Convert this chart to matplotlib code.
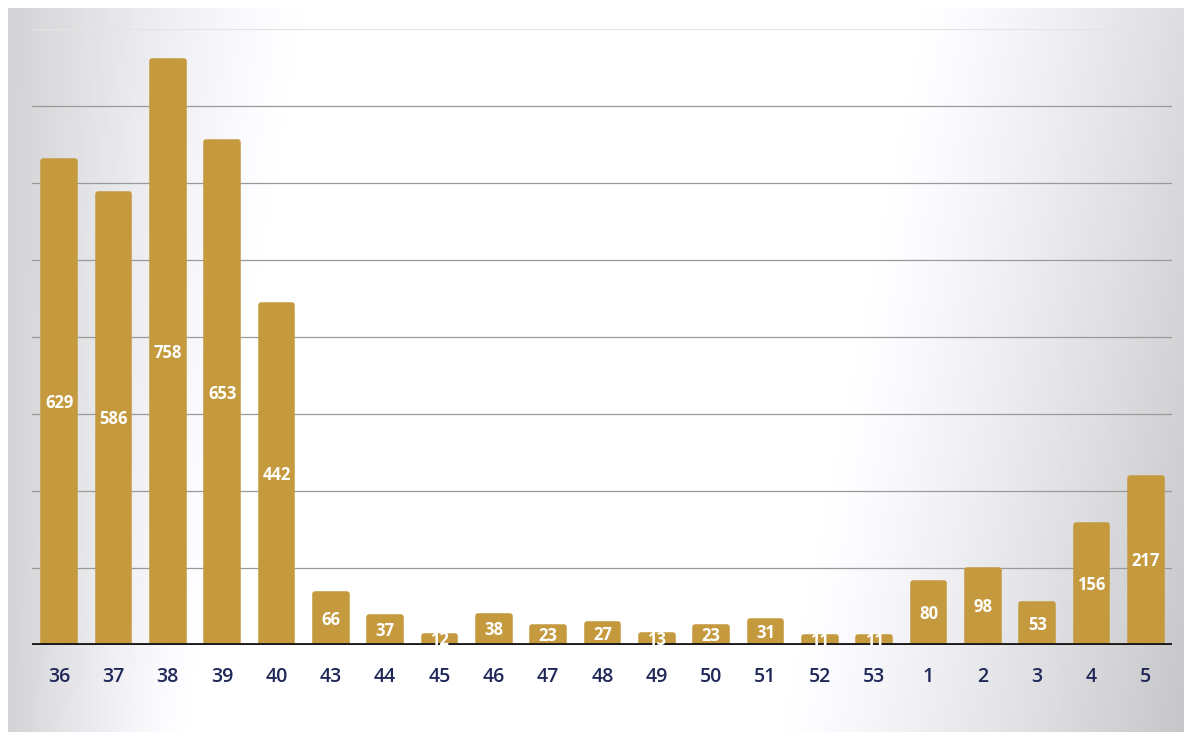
import numpy as np
import matplotlib.pyplot as plt

# weekly counts
weeks = ['36', '37', '38', '39', '40', '43', '44', '45', '46', '47', '48',
         '49', '50', '51', '52', '53', '1', '2', '3', '4', '5']
counts = [629, 586, 758, 653, 442, 66, 37, 12, 38, 23, 27,
          13, 23, 31, 11, 11, 80, 98, 53, 156, 217]

bar_color = '#c59a3e'
tick_color = '#1f2858'

plt.rcParams['font.family'] = ['Open Sans', 'DejaVu Sans']

fig = plt.figure(figsize=(11.84, 7.32), dpi=100)
fig.patch.set_facecolor('white')

# background shading (scanned page look)
bg = fig.add_axes([8 / 1184, 0, 1 - 8 / 1184, 1 - 8 / 732])
xx, yy = np.meshgrid(np.linspace(0, 1, 300), np.linspace(0, 1, 200))
left = np.clip(1 - xx / (0.25 - 0.1 * yy), 0, 1) ** 1.3 * 0.17
start = 0.78 - 0.12 * yy
right = np.clip((xx - start) / (1 - start), 0, 1) ** 1.2 * (0.13 + 0.09 * yy)
shade = 1 - np.maximum(left, right)
bg.imshow(np.dstack([shade, shade, shade * 1.015]).clip(0, 1),
          aspect='auto', extent=[0, 1, 0, 1], origin='upper')
bg.set_axis_off()

ax = fig.add_axes([32 / 1184, 1 - 645 / 732, (1172 - 32) / 1184, (645 - 29) / 732])
ax.patch.set_alpha(0)

x = np.arange(len(weeks))
bars = ax.bar(x, counts, width=0.58, color=bar_color, edgecolor=bar_color,
              linewidth=4, joinstyle='round', zorder=3)

for xi, v in zip(x, counts):
    ax.text(xi, v / 2, str(v), ha='center', va='center', color='white',
            fontsize=12, fontweight='bold', zorder=5)

ax.set_xlim(-0.5, 20.48)
ax.set_ylim(0, 800)
ax.set_yticks(np.arange(100, 701, 100))
ax.yaxis.grid(True, color='#9a9a9a', linewidth=0.9)
ax.axhline(800, color='#e4e4e4', linewidth=0.9)
ax.set_axisbelow(True)
ax.axhline(0, color='#1a1a1a', linewidth=3.5, zorder=4)

ax.set_xticks(x)
ax.set_xticklabels(weeks)
ax.tick_params(axis='x', length=0, pad=16, labelsize=14, labelcolor=tick_color)
ax.tick_params(axis='y', length=0, labelleft=False)
for lbl in ax.get_xticklabels():
    lbl.set_fontweight('semibold')
for s in ax.spines.values():
    s.set_visible(False)

fig.savefig('out.png', dpi=100)
